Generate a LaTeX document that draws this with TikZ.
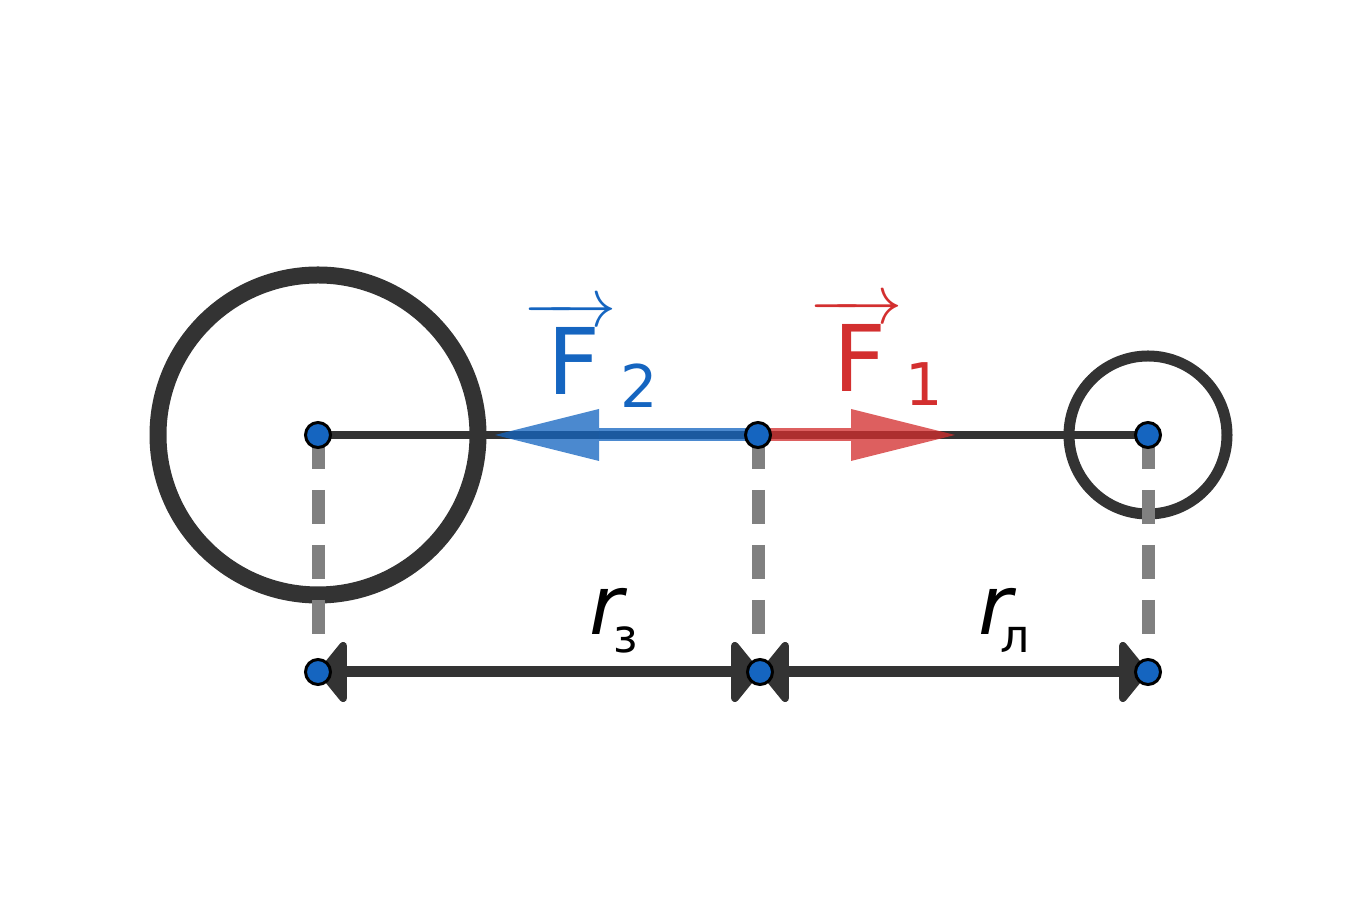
\documentclass[tikz,border=0pt]{standalone}
\usepackage{amsmath}
\usepackage{fontspec}
\setmainfont{DejaVu Sans}
\usetikzlibrary{arrows.meta}
\definecolor{fblue}{HTML}{1565C0}
\definecolor{fred}{HTML}{D32F2F}
\definecolor{dark}{HTML}{333333}
\newcommand{\vecF}{{\fontsize{17}{17}\selectfont$\overrightarrow{\hbox{\fontsize{23}{23}\selectfont\kern6pt\smash{F}\rule{0pt}{17pt}\kern4pt}}$}}

\begin{document}
\begin{tikzpicture}[x=0.25pt,y=-0.25pt,
		body/.style={draw=dark},
		axisline/.style={draw=dark, line width=2pt},
		guide/.style={draw=gray, line width=3.25pt, dash pattern=on 8.5pt off 5.25pt},
		force/.style={line width=3.25pt, opacity=0.77,
			-{Triangle[length=26pt,width=13pt,line width=0pt]}},
		dimline/.style={draw=dark, line width=2.75pt,
			{Triangle[round,length=7.5pt,width=18pt]}-{Triangle[round,length=7.5pt,width=18pt]}},
		dot/.style={fill=fblue, draw=black, line width=0.75pt},
		vlabel/.style={inner sep=0pt, anchor=base west, font=\fontsize{23}{23}\selectfont},
		rlabel/.style={inner sep=0pt, anchor=base west, font=\fontsize{20.6}{20.6}\selectfont}]
		\useasboundingbox (0,0) rectangle (1350,917);
		% centres and the point between them
		\coordinate (Earth) at (318,435);
		\coordinate (P) at (758,435);
		\coordinate (Moon) at (1148,435);
		\coordinate (Ed) at (318,636);
		\coordinate (Pd) at (758,636);
		\coordinate (Md) at (1148,636);
		\coordinate (Eb) at (318,672);
		\coordinate (Pb) at (760,672);
		\coordinate (Mb) at (1148,672);
		\coordinate (F2tip) at (495,435);
		\coordinate (F1tip) at (955,435);
		% bodies
		\draw[body, line width=4.25pt] (Earth) circle[radius=160];
		\draw[body, line width=2.75pt] (Moon) circle[radius=79];
		\draw[axisline] (Earth) -- (Moon);
		\draw[guide] (Earth) -- (Ed);
		\draw[guide] (P) -- (Pd);
		\draw[guide] (Moon) -- (Md);
		% forces
		\draw[force, fblue] (P) -- (F2tip);
		\draw[force, fred] (P) -- (F1tip);
		% distances
		\draw[dimline] (Eb) -- (Pb);
		\draw[dimline] (Pb) -- (Mb);
		\node[vlabel, text=fblue] (F2) at (523,395)
			{\vecF\kern1pt\raisebox{-3.25pt}{\fontsize{14.7}{14.7}\selectfont 2}};
		\node[vlabel, text=fred] (F1) at (809,392)
			{\vecF\kern0.75pt\raisebox{-3.5pt}{\fontsize{14.7}{14.7}\selectfont 1}};
		\node[rlabel] (rE) at (589,635)
			{\textit{r}\kern-3.6pt\raisebox{-4.5pt}{\fontsize{11.5}{11.5}\selectfont з}};
		\node[rlabel] (rM) at (978,635)
			{\textit{r}\kern-4.2pt\raisebox{-4.5pt}{\fontsize{11.5}{11.5}\selectfont л}};
		\foreach \p in {Earth,P,Moon,Eb,Pb,Mb}
			\draw[dot] (\p) circle[radius=12.5];
\end{tikzpicture}
\end{document}
